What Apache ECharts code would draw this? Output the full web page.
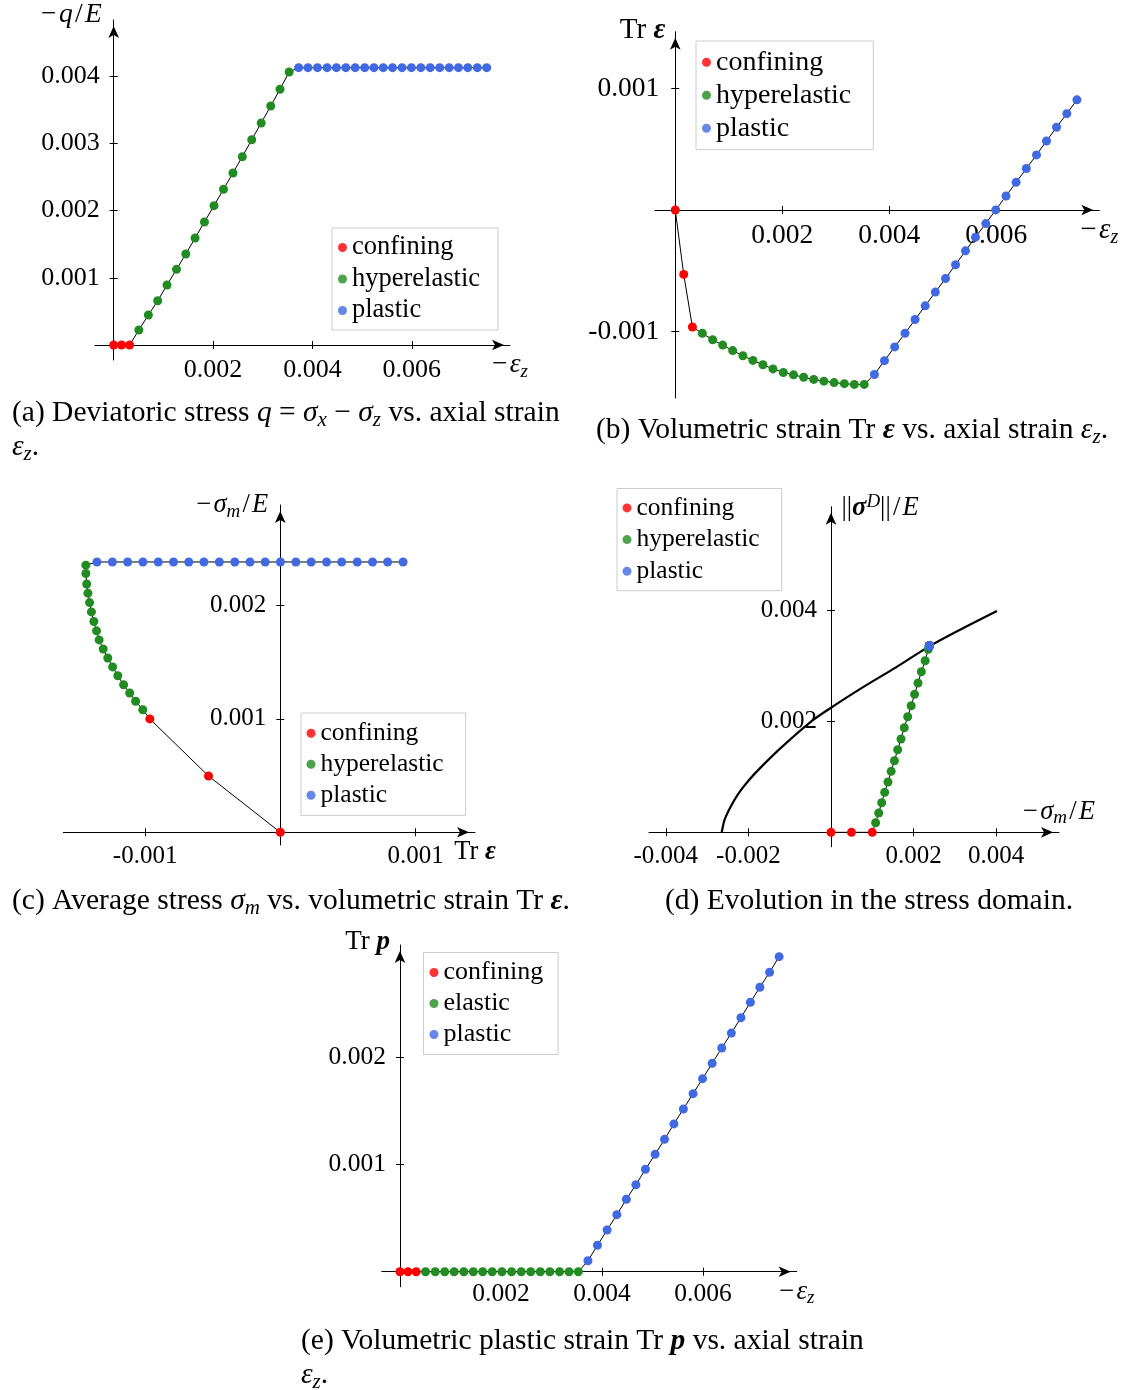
<!DOCTYPE html>
<html>
<head>
<meta charset="utf-8">
<title>Triaxial test: confining, hyperelastic and plastic stages</title>
<script src="https://cdn.jsdelivr.net/npm/echarts@6.0.0/dist/echarts.min.js"></script>
<style>
html, body { margin: 0; padding: 0; background: #ffffff; }
#chart { width: 1129px; height: 1390px; }
</style>
</head>
<body>
<div id="chart"></div>
<script>
// ---------------- data ----------------
const stageNames = ['confining', 'hyperelastic', 'plastic'];
const stageNamesE = ['confining', 'elastic', 'plastic'];
const stageSizes = [3, 17, 21];

// axial strain -eps_z (panels a, b, e)
const epsZ = [
  0, 0.000158, 0.00032,
  0.000506, 0.000698, 0.000886, 0.001073, 0.001264, 0.001451, 0.001638, 0.001826, 0.002019,
  0.00221, 0.0024, 0.002588, 0.002778, 0.002968, 0.00316, 0.003347, 0.003531,
  0.003722, 0.00391, 0.004101, 0.004294, 0.004482, 0.004671, 0.00486, 0.005051, 0.005238,
  0.005424, 0.005611, 0.005803, 0.005991, 0.006181, 0.00637, 0.006561, 0.006751, 0.006938,
  0.007126, 0.007318, 0.007507
];
// -q/E (panel a)
const qE = [
  0, 0, 0,
  0.000223, 0.000446, 0.000659, 0.000893, 0.001126, 0.001354, 0.001592, 0.00183, 0.002073,
  0.002317, 0.00256, 0.002802, 0.003055, 0.003304, 0.003557, 0.003805, 0.004063,
  0.004127, 0.004127, 0.004127, 0.004127, 0.004127, 0.004127, 0.004127, 0.004127, 0.004127,
  0.004127, 0.004127, 0.004127, 0.004127, 0.004127, 0.004127, 0.004127, 0.004127, 0.004127,
  0.004127, 0.004127, 0.004127
];
// volumetric strain Tr eps (panels b, c)
const trEps = [
  0, -0.000531, -0.000965,
  -0.001017, -0.00107, -0.001114, -0.001159, -0.001202, -0.00124, -0.001276, -0.00131, -0.00134,
  -0.001359, -0.001379, -0.001397, -0.001411, -0.001423, -0.001432, -0.001438, -0.001438,
  -0.001356, -0.001242, -0.001129, -0.001016, -0.000903, -0.00079, -0.000677, -0.000565, -0.000451,
  -0.000337, -0.000224, -0.000112, 0.000001, 0.000115, 0.000228, 0.000342, 0.000454, 0.000569,
  0.000682, 0.000794, 0.000908
];
// -sigma_m/E (panels c, d)
const sigmaM = [
  0, 0.000496, 0.000999,
  0.00108, 0.001155, 0.001227, 0.0013, 0.001379, 0.001457, 0.001536, 0.001615, 0.001695,
  0.001775, 0.001857, 0.001942, 0.002024, 0.002107, 0.002188, 0.00228, 0.002354,
  0.002382, 0.002382, 0.002382, 0.002382, 0.002382, 0.002382, 0.002382, 0.002382, 0.002382,
  0.002382, 0.002382, 0.002382, 0.002382, 0.002382, 0.002382, 0.002382, 0.002382, 0.002382,
  0.002382, 0.002382, 0.002382
];
// ||sigma^D||/E (panel d)
const sigmaDev = [
  0, 0, 0,
  0.000173, 0.000348, 0.000533, 0.00072, 0.000906, 0.001099, 0.00129, 0.001488, 0.001681,
  0.001885, 0.002083, 0.002281, 0.002486, 0.00269, 0.002893, 0.003092, 0.003297,
  0.003362, 0.003362, 0.003362, 0.003362, 0.003362, 0.003362, 0.003362, 0.003362, 0.003362,
  0.003362, 0.003362, 0.003362, 0.003362, 0.003362, 0.003362, 0.003362, 0.003362, 0.003362,
  0.003362, 0.003362, 0.003362
];
// volumetric plastic strain Tr p (panel e)
const trP = [
  0, 0, 0,
  0, 0, 0, 0, 0, 0, 0, 0, 0,
  0, 0, 0, 0, 0, 0, 0, 0,
  0.000103, 0.000247, 0.00039, 0.000533, 0.000677, 0.000813, 0.000957, 0.001097, 0.001237,
  0.001381, 0.001521, 0.001664, 0.001804, 0.001947, 0.00209, 0.00223, 0.002374, 0.002518,
  0.002658, 0.002798, 0.002944
];
// yield surface in the stress domain (panel d)
const yieldSigmaM = [-0.002646, -0.00258, -0.002446, -0.00225, -0.002, -0.0017, -0.0012, -0.00044, 0, 0.0007, 0.0015, 0.00238, 0.0031, 0.004019];
const yieldSigmaDev = [0, 0.00022, 0.00044, 0.00069, 0.00093, 0.00117, 0.00153, 0.00202, 0.002245, 0.00258, 0.00294, 0.00335, 0.00364, 0.003987];

// tick labels
const xTicksA = [0.002, 0.004, 0.006];
const yTicksA = [0.001, 0.002, 0.003, 0.004];
const xTicksB = [0.002, 0.004, 0.006];
const yTicksB = [-0.001, 0.001];
const xTicksC = [-0.001, 0.001];
const yTicksC = [0.001, 0.002];
const xTicksD = [-0.004, -0.002, 0.002, 0.004];
const yTicksD = [0.002, 0.004];
const xTicksE = [0.002, 0.004, 0.006];
const yTicksE = [0.001, 0.002];

// ---------------- styling / layout ----------------
const FONT = '"Liberation Serif", "Times New Roman", serif';
const INK = '#000000';
const stageColors = { confining: '#ff0000', hyperelastic: '#228b22', elastic: '#228b22', plastic: '#4169e1' };
const CAPTION_FS = 29.5;
const HS = '\u200A'; // hair space, widens math-like axis titles a little

const panels = [
  { xs: epsZ, ys: qE, names: stageNames, fs: 26,
    grid: { left: 95, top: 20, width: 415, height: 340 },
    xr: [-0.000376, 0.007975], yr: [-0.000223, 0.004836], xt: xTicksA, yt: yTicksA, xm: 12, ym: 14,
    legend: { left: 332, top: 228, padding: [6, 18, 6, 6], gap: 4.5 },
    xName: '−' + HS + '{i|ε}{s|z}', xNameDy: 20,
    yName: '−' + HS + '{i|q}' + HS + '/' + HS + '{i|E}', yNameSide: 'left', yNameGap: 12, yNameDy: -5,
    caption: ['(a) Deviatoric stress {i|q} = {i|σ}{s|x} − {i|σ}{s|z} vs. axial strain', '{i|ε}{s|z}.'], capX: 12, capY: 413 },
  { xs: epsZ, ys: trEps, names: stageNames, fs: 27.5,
    grid: { left: 655, top: 31.7, width: 444.3, height: 366.3 },
    xr: [-0.000379, 0.007925], yr: [-0.00155, 0.00147], xt: xTicksB, yt: yTicksB, xm: 12, ym: 16,
    legend: { left: 696, top: 41, padding: [7.3, 22, 7.3, 6], gap: 5 },
    xName: '−' + HS + '{i|ε}{s|z}', xNameDy: 20,
    yName: 'Tr {b|ε}', yNameSide: 'left', yNameGap: 10, yNameDy: -1,
    caption: ['(b) Volumetric strain Tr {b|ε} vs. axial strain {i|ε}{s|z}.'], capX: 596, capY: 430 },
  { xs: trEps, ys: sigmaM, names: stageNames, fs: 25,
    grid: { left: 63.3, top: 505, width: 411.7, height: 340 },
    xr: [-0.001605, 0.00144], yr: [-0.000112, 0.002884], xt: xTicksC, yt: yTicksC, xm: 12, ym: 14,
    legend: { left: 301, top: 713, padding: [7.2, 22, 7.2, 5.5], gap: 5 },
    xName: 'Tr {b|ε}', xNameDy: 19.5,
    yName: '−' + HS + '{i|σ}{s|m}' + HS + '/' + HS + '{i|E}', yNameSide: 'left', yNameGap: 12, yNameDy: 0,
    caption: ['(c) Average stress {i|σ}{s|m} vs. volumetric strain Tr {b|ε}.'], capX: 12, capY: 901 },
  { xs: sigmaM, ys: sigmaDev, names: stageNames, fs: 25,
    grid: { left: 649, top: 506.7, width: 410, height: 340 },
    xr: [-0.004407, 0.005521], yr: [-0.000259, 0.005867], xt: xTicksD, yt: yTicksD, xm: 12, ym: 14,
    legend: { left: 617, top: 488.5, padding: [6.4, 22, 6.4, 5.5], gap: 5.7 },
    xName: '−' + HS + '{i|σ}{s|m}' + HS + '/' + HS + '{i|E}', xNameDy: -20.5,
    yName: '||{b|σ}{p|D}||' + HS + '/' + HS + '{i|E}', yNameSide: 'right', yNameGap: 10.5, yNameDy: 1.5,
    curve: { xs: yieldSigmaM, ys: yieldSigmaDev },
    caption: ['(d) Evolution in the stress domain.'], capX: 665, capY: 901 },
  { xs: epsZ, ys: trP, names: stageNamesE, fs: 25.5,
    grid: { left: 381.7, top: 945, width: 415, height: 341.7 },
    xr: [-0.000362, 0.007855], yr: [-0.00014, 0.003053], xt: xTicksE, yt: yTicksE, xm: 10, ym: 14,
    legend: { left: 423.5, top: 952.5, padding: [7, 15, 7, 6], gap: 5 },
    xName: '−' + HS + '{i|ε}{s|z}', xNameDy: 20,
    yName: 'Tr {b|p}', yNameSide: 'left', yNameGap: 10, yNameDy: -3,
    caption: ['(e) Volumetric plastic strain Tr {b|p} vs. axial strain', '{i|ε}{s|z}.'], capX: 301, capY: 1341 }
];

function richSet(fs) {
  const lh = Math.round(fs * 1.2);
  const sub = Math.round(fs * 0.7);
  return {
    i: { fontSize: fs, fontFamily: FONT, fontStyle: 'italic', fill: INK, lineHeight: lh },
    b: { fontSize: fs, fontFamily: FONT, fontStyle: 'italic', fontWeight: 'bold', fill: INK, lineHeight: lh },
    s: { fontSize: sub, fontFamily: FONT, fontStyle: 'italic', fill: INK, verticalAlign: 'bottom', lineHeight: Math.round(fs * 0.72) },
    p: { fontSize: sub, fontFamily: FONT, fontStyle: 'italic', fill: INK, verticalAlign: 'top', lineHeight: Math.round(fs * 0.72) }
  };
}
function textEl(x, y, text, fs, align) {
  return {
    type: 'text', x: x, y: y, silent: true, z: 60,
    style: {
      legacy: false, text: text, fontSize: fs, fontFamily: FONT, fill: INK,
      align: align, textAlign: align, verticalAlign: 'middle', textVerticalAlign: 'middle',
      lineHeight: Math.round(fs * 1.2), rich: richSet(fs)
    }
  };
}

const option = {
  animation: false,
  backgroundColor: '#ffffff',
  textStyle: { fontFamily: FONT, color: INK },
  grid: [], xAxis: [], yAxis: [], legend: [], series: [], graphic: []
};

panels.forEach(function (p, i) {
  const g = p.grid;
  option.grid.push(Object.assign({ show: false, containLabel: false, outerBoundsMode: 'none' }, g));
  // pixel position of the value 0 on each axis (axes cross at the origin)
  const zeroX = g.left + (0 - p.xr[0]) / (p.xr[1] - p.xr[0]) * g.width;
  const zeroY = g.top + (p.yr[1] - 0) / (p.yr[1] - p.yr[0]) * g.height;
  const lineStyle = { color: INK, width: 1 };
  const fmt = function (v) { return v.toFixed(3); };
  function axes(dim) {
    const isX = dim === 'x';
    const range = isX ? p.xr : p.yr;
    const ticks = isX ? p.xt : p.yt;
    const offset = isX ? (zeroY - (g.top + g.height)) : -(zeroX - g.left);
    const common = {
      type: 'value', gridIndex: i, min: range[0], max: range[1],
      position: isX ? 'bottom' : 'left', offset: offset,
      splitLine: { show: false }, splitArea: { show: false }, minorTick: { show: false }
    };
    const main = Object.assign({}, common, {
      axisLine: { show: true, onZero: false, symbol: ['none', 'arrow'], symbolSize: [8, 12], symbolOffset: [0, -6], lineStyle: lineStyle },
      axisTick: { show: true, inside: false, length: 4, customValues: ticks, lineStyle: lineStyle },
      axisLabel: { show: true, customValues: ticks, formatter: fmt, margin: isX ? p.xm : p.ym, color: INK, fontSize: p.fs, fontFamily: FONT }
    });
    const twin = Object.assign({}, common, {
      axisLine: { show: false, onZero: false },
      axisTick: { show: true, inside: true, length: 4, customValues: ticks, lineStyle: lineStyle },
      axisLabel: { show: false }
    });
    return [main, twin];
  }
  option.xAxis.push.apply(option.xAxis, axes('x'));
  option.yAxis.push.apply(option.yAxis, axes('y'));

  const ax = { xAxisIndex: 2 * i, yAxisIndex: 2 * i };
  const pts = p.xs.map(function (x, k) { return [x, p.ys[k]]; });

  // thin black path through all states
  option.series.push(Object.assign({
    type: 'line', name: 'path-' + i, data: pts, symbol: 'none', showSymbol: false, silent: true,
    lineStyle: { color: INK, width: 1 }, z: 2
  }, ax));
  if (p.curve) {
    option.series.push(Object.assign({
      type: 'line', name: 'yield-surface', data: p.curve.xs.map(function (x, k) { return [x, p.curve.ys[k]]; }),
      symbol: 'none', showSymbol: false, silent: true, smooth: 0.25,
      lineStyle: { color: INK, width: 2.2 }, z: 2
    }, ax));
  }
  let k0 = 0;
  stageSizes.forEach(function (n, s) {
    const name = p.names[s];
    option.series.push(Object.assign({
      type: 'scatter', name: name, data: pts.slice(k0, k0 + n), symbol: 'circle', symbolSize: 9,
      itemStyle: { color: stageColors[name], borderWidth: 0, opacity: 1 }, z: 3
    }, ax));
    k0 += n;
  });

  const L = p.legend;
  option.legend.push({
    show: true, orient: 'vertical', left: L.left, top: L.top, padding: L.padding,
    itemGap: L.gap, itemWidth: 9, itemHeight: 9, icon: 'circle', data: p.names,
    backgroundColor: '#ffffff', borderColor: '#cccccc', borderWidth: 1, borderRadius: 0,
    selectedMode: false, itemStyle: { opacity: 0.8, borderWidth: 0 },
    textStyle: { color: INK, fontSize: p.fs + 0.5, fontFamily: FONT }
  });

  // axis titles
  const nfs = p.fs + 1.5;
  option.graphic.push(textEl(g.left + g.width, zeroY + p.xNameDy, p.xName, nfs, 'center'));
  if (p.yNameSide === 'left') {
    option.graphic.push(textEl(zeroX - p.yNameGap, g.top + p.yNameDy, p.yName, nfs, 'right'));
  } else {
    option.graphic.push(textEl(zeroX + p.yNameGap, g.top + p.yNameDy, p.yName, nfs, 'left'));
  }
  // caption
  p.caption.forEach(function (line, li) {
    option.graphic.push(textEl(p.capX, p.capY + li * 34, line, CAPTION_FS, 'left'));
  });
});

const chart = echarts.init(document.getElementById('chart'), null, { renderer: 'canvas' });
chart.setOption(option);
</script>
</body>
</html>
